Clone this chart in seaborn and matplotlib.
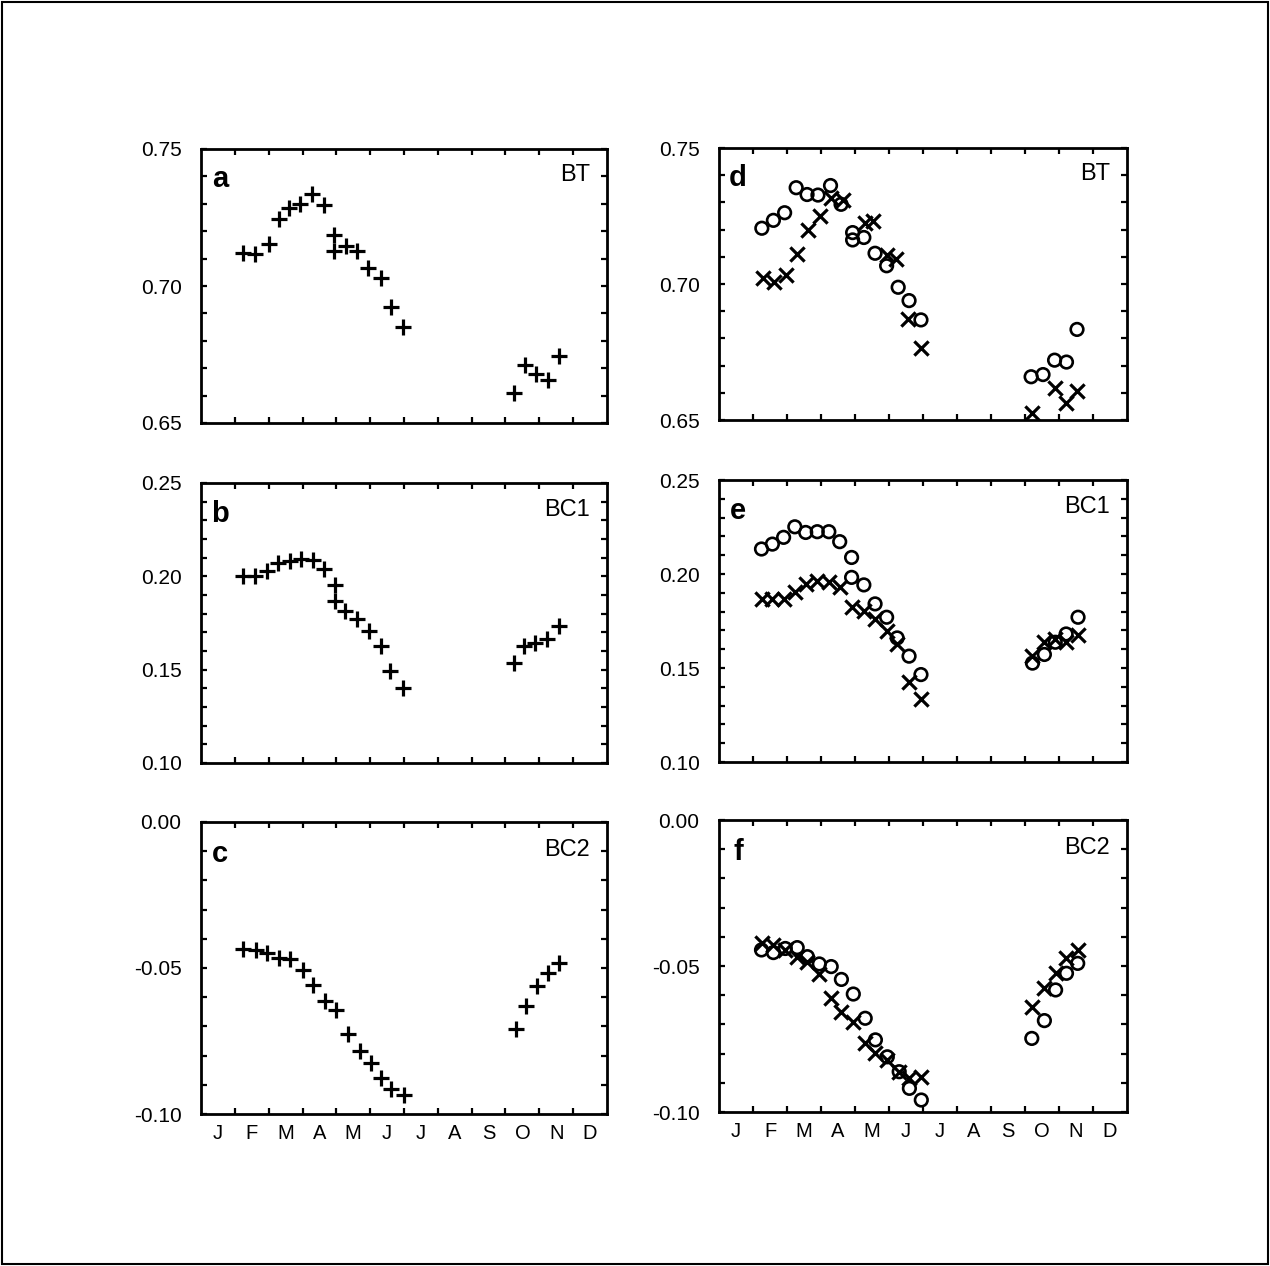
import numpy as np
import pandas as pd
import matplotlib
matplotlib.use("Agg")
import matplotlib.pyplot as plt
import seaborn as sns
from matplotlib.ticker import FixedLocator, MultipleLocator, NullFormatter, FixedFormatter
from matplotlib.patches import Rectangle

sns.set_theme(style="white")
plt.rcParams["font.family"] = ["Liberation Sans", "DejaVu Sans"]

month_labels = ["J", "F", "M", "A", "M", "J", "J", "A", "S", "O", "N", "D"]

# ---- panel a (BT, +) ----
a_x = [1.25, 1.60, 2.00, 2.30, 2.61, 2.94, 3.27, 3.64, 3.94, 3.94, 4.28, 4.60, 4.93, 5.31, 5.63, 5.96,
       9.24, 9.59, 9.91, 10.25, 10.58]
a_y = [0.7119, 0.7115, 0.7153, 0.7245, 0.7284, 0.7300, 0.7336, 0.7296, 0.7186, 0.7128, 0.7146, 0.7129,
       0.7065, 0.7031, 0.6925, 0.6852, 0.6611, 0.6710, 0.6678, 0.6658, 0.6743]

# ---- panel b (BC1, +) ----
b_x = [1.23, 1.59, 1.94, 2.29, 2.62, 2.96, 3.31, 3.65, 3.95, 3.95, 4.27, 4.61, 4.98, 5.31, 5.59, 5.98,
       9.25, 9.54, 9.86, 10.24, 10.58]
b_y = [0.2004, 0.2004, 0.2027, 0.2071, 0.2084, 0.2095, 0.2089, 0.2041, 0.1955, 0.1870, 0.1816, 0.1773,
       0.1709, 0.1625, 0.1495, 0.1402, 0.1536, 0.1625, 0.1643, 0.1666, 0.1732]

# ---- panel c (BC2, +) ----
c_x = [1.25, 1.62, 1.96, 2.31, 2.62, 3.00, 3.31, 3.66, 3.98, 4.35, 4.69, 5.02, 5.33, 5.63, 6.00,
       9.30, 9.61, 9.94, 10.25, 10.58]
c_y = [-0.0434, -0.0438, -0.0447, -0.0466, -0.0468, -0.0506, -0.0559, -0.0614, -0.0645, -0.0725,
       -0.0784, -0.0827, -0.0875, -0.0915, -0.0934, -0.0710, -0.0631, -0.0563, -0.0517, -0.0483]

# ---- panel d (BT) ----
d_o_x = [1.26, 1.60, 1.93, 2.27, 2.59, 2.91, 3.28, 3.59, 3.93, 3.93, 4.26, 4.59, 4.93, 5.27, 5.59, 5.94,
         9.18, 9.53, 9.87, 10.22, 10.53]
d_o_y = [0.7205, 0.7234, 0.7262, 0.7354, 0.7329, 0.7327, 0.7362, 0.7293, 0.7189, 0.7162, 0.7171, 0.7113,
         0.7067, 0.6988, 0.6939, 0.6868, 0.6659, 0.6667, 0.6720, 0.6713, 0.6833]
d_x_x = [1.29, 1.62, 1.96, 2.30, 2.61, 2.96, 3.30, 3.64, 4.28, 4.52, 4.95, 5.22, 5.55, 5.94,
         9.21, 9.89, 10.22, 10.53]
d_x_y = [0.7022, 0.7006, 0.7034, 0.7110, 0.7198, 0.7250, 0.7315, 0.7307, 0.7226, 0.7232, 0.7105, 0.7091,
         0.6872, 0.6766, 0.6527, 0.6616, 0.6561, 0.6607]

# ---- panel e (BC1) ----
e_o_x = [1.25, 1.57, 1.90, 2.23, 2.55, 2.89, 3.23, 3.55, 3.90, 3.90, 4.26, 4.59, 4.93, 5.24, 5.59, 5.94,
         9.22, 9.57, 9.89, 10.21, 10.56]
e_o_y = [0.2133, 0.2159, 0.2195, 0.2251, 0.2221, 0.2225, 0.2225, 0.2172, 0.2088, 0.1982, 0.1942, 0.1841,
         0.1770, 0.1660, 0.1563, 0.1465, 0.1526, 0.1572, 0.1637, 0.1681, 0.1770]
e_x_x = [1.25, 1.57, 1.90, 2.23, 2.55, 2.89, 3.23, 3.55, 3.90, 4.26, 4.59, 4.93, 5.24, 5.59, 5.94,
         9.22, 9.57, 9.89, 10.21, 10.56]
e_x_y = [0.1867, 0.1867, 0.1867, 0.1903, 0.1947, 0.1965, 0.1956, 0.1929, 0.1823, 0.1805, 0.1761, 0.1696,
         0.1628, 0.1425, 0.1336, 0.1566, 0.1637, 0.1655, 0.1637, 0.1673]

# ---- panel f (BC2) ----
f_o_x = [1.25, 1.60, 1.95, 2.30, 2.60, 2.95, 3.30, 3.60, 3.95, 4.30, 4.60, 4.95, 5.30, 5.60, 5.95,
         9.20, 9.57, 9.90, 10.22, 10.55]
f_o_y = [-0.0445, -0.0454, -0.0440, -0.0437, -0.0468, -0.0493, -0.0502, -0.0546, -0.0596, -0.0679,
         -0.0753, -0.0811, -0.0862, -0.0919, -0.0959, -0.0748, -0.0687, -0.0582, -0.0525, -0.0491]
f_x_x = [1.25, 1.60, 1.95, 2.30, 2.60, 2.95, 3.30, 3.60, 3.95, 4.30, 4.60, 4.95, 5.30, 5.60, 5.95,
         9.20, 9.57, 9.90, 10.22, 10.55]
f_x_y = [-0.0422, -0.0428, -0.0445, -0.0468, -0.0485, -0.0527, -0.0611, -0.0656, -0.0691, -0.0765,
         -0.0799, -0.0822, -0.0862, -0.0885, -0.0879, -0.0639, -0.0576, -0.0523, -0.0474, -0.0445]

W, H = 1270, 1266
fig = plt.figure(figsize=(W / 100, H / 100), dpi=100)
fig.patch.set_facecolor("white")
fig.patches.append(Rectangle((0.0015, 0.0015), 0.997, 0.997, transform=fig.transFigure,
                             fill=False, edgecolor="black", linewidth=1.5))


def make_ax(x0, x1, y0, y1):
    return fig.add_axes([x0 / W, 1 - y1 / H, (x1 - x0) / W, (y1 - y0) / H])


panels = [
    ("a", "BT", (201, 607, 149, 423), (0.65, 0.75), [0.65, 0.70, 0.75], ["0.65", "0.70", "0.75"],
     [("+", a_x, a_y)], False),
    ("b", "BC1", (201, 607, 483, 763), (0.10, 0.25), [0.10, 0.15, 0.20, 0.25],
     ["0.10", "0.15", "0.20", "0.25"], [("+", b_x, b_y)], False),
    ("c", "BC2", (201, 607, 822, 1114), (-0.10, 0.0), [-0.10, -0.05, 0.0],
     ["-0.10", "-0.05", "0.00"], [("+", c_x, c_y)], True),
    ("d", "BT", (719, 1127, 148, 420), (0.65, 0.75), [0.65, 0.70, 0.75], ["0.65", "0.70", "0.75"],
     [("o", d_o_x, d_o_y), ("x", d_x_x, d_x_y)], False),
    ("e", "BC1", (719, 1127, 480, 762), (0.10, 0.25), [0.10, 0.15, 0.20, 0.25],
     ["0.10", "0.15", "0.20", "0.25"], [("o", e_o_x, e_o_y), ("x", e_x_x, e_x_y)], False),
    ("f", "BC2", (719, 1127, 820, 1112), (-0.10, 0.0), [-0.10, -0.05, 0.0],
     ["-0.10", "-0.05", "0.00"], [("o", f_o_x, f_o_y), ("x", f_x_x, f_x_y)], True),
]

for letter, name, box, ylim, yt, yl, series, bottom in panels:
    ax = make_ax(*box)
    ax.set_facecolor("white")
    for mk, xs, ys in series:
        df = pd.DataFrame({"month": xs, "value": ys})
        if mk == "+":
            sns.scatterplot(data=df, x="month", y="value", marker="+", s=135, color="black",
                            linewidth=2.3, ax=ax, clip_on=False, zorder=3)
        elif mk == "x":
            sns.scatterplot(data=df, x="month", y="value", marker="x", s=105, color="black",
                            linewidth=2.3, ax=ax, clip_on=True, zorder=4)
        else:
            sns.scatterplot(data=df, x="month", y="value", marker="o", s=82, color="black",
                            linewidth=1.9, ax=ax, zorder=3)
            coll = ax.collections[-1]
            coll.set_facecolor("none")
            coll.set_edgecolor("black")
    ax.set_xlim(0, 12)
    ax.set_ylim(*ylim)
    ax.set_xlabel("")
    ax.set_ylabel("")
    for sp in ax.spines.values():
        sp.set_visible(True)
        sp.set_color("black")
        sp.set_linewidth(2.0)
    # x ticks: marks at month boundaries, labels at month centres
    ax.xaxis.set_major_locator(FixedLocator(np.arange(1, 12)))
    ax.xaxis.set_major_formatter(NullFormatter())
    ax.xaxis.set_minor_locator(FixedLocator(np.arange(12) + 0.5))
    if bottom:
        ax.xaxis.set_minor_formatter(FixedFormatter(month_labels))
    else:
        ax.xaxis.set_minor_formatter(NullFormatter())
    ax.tick_params(axis="x", which="major", direction="in", length=4.5, width=1.6,
                   top=True, bottom=True, color="black")
    ax.tick_params(axis="x", which="minor", length=0, pad=7, labelsize=14.5, labelcolor="black")
    # y ticks
    ax.yaxis.set_major_locator(FixedLocator(yt))
    ax.yaxis.set_major_formatter(FixedFormatter(yl))
    ax.yaxis.set_minor_locator(MultipleLocator(0.01))
    ax.tick_params(axis="y", which="both", direction="in", length=4.5, width=1.6,
                   left=True, right=True, color="black")
    ax.tick_params(axis="y", which="major", pad=14, labelsize=15, labelcolor="black")
    ax.text(0.047, 0.89, letter, transform=ax.transAxes, fontsize=21, fontweight="bold",
            ha="center", va="center", color="black")
    ax.text(0.958, 0.905, name, transform=ax.transAxes, fontsize=17,
            ha="right", va="center", color="black")

fig.savefig("out.png", dpi=100, facecolor="white")
